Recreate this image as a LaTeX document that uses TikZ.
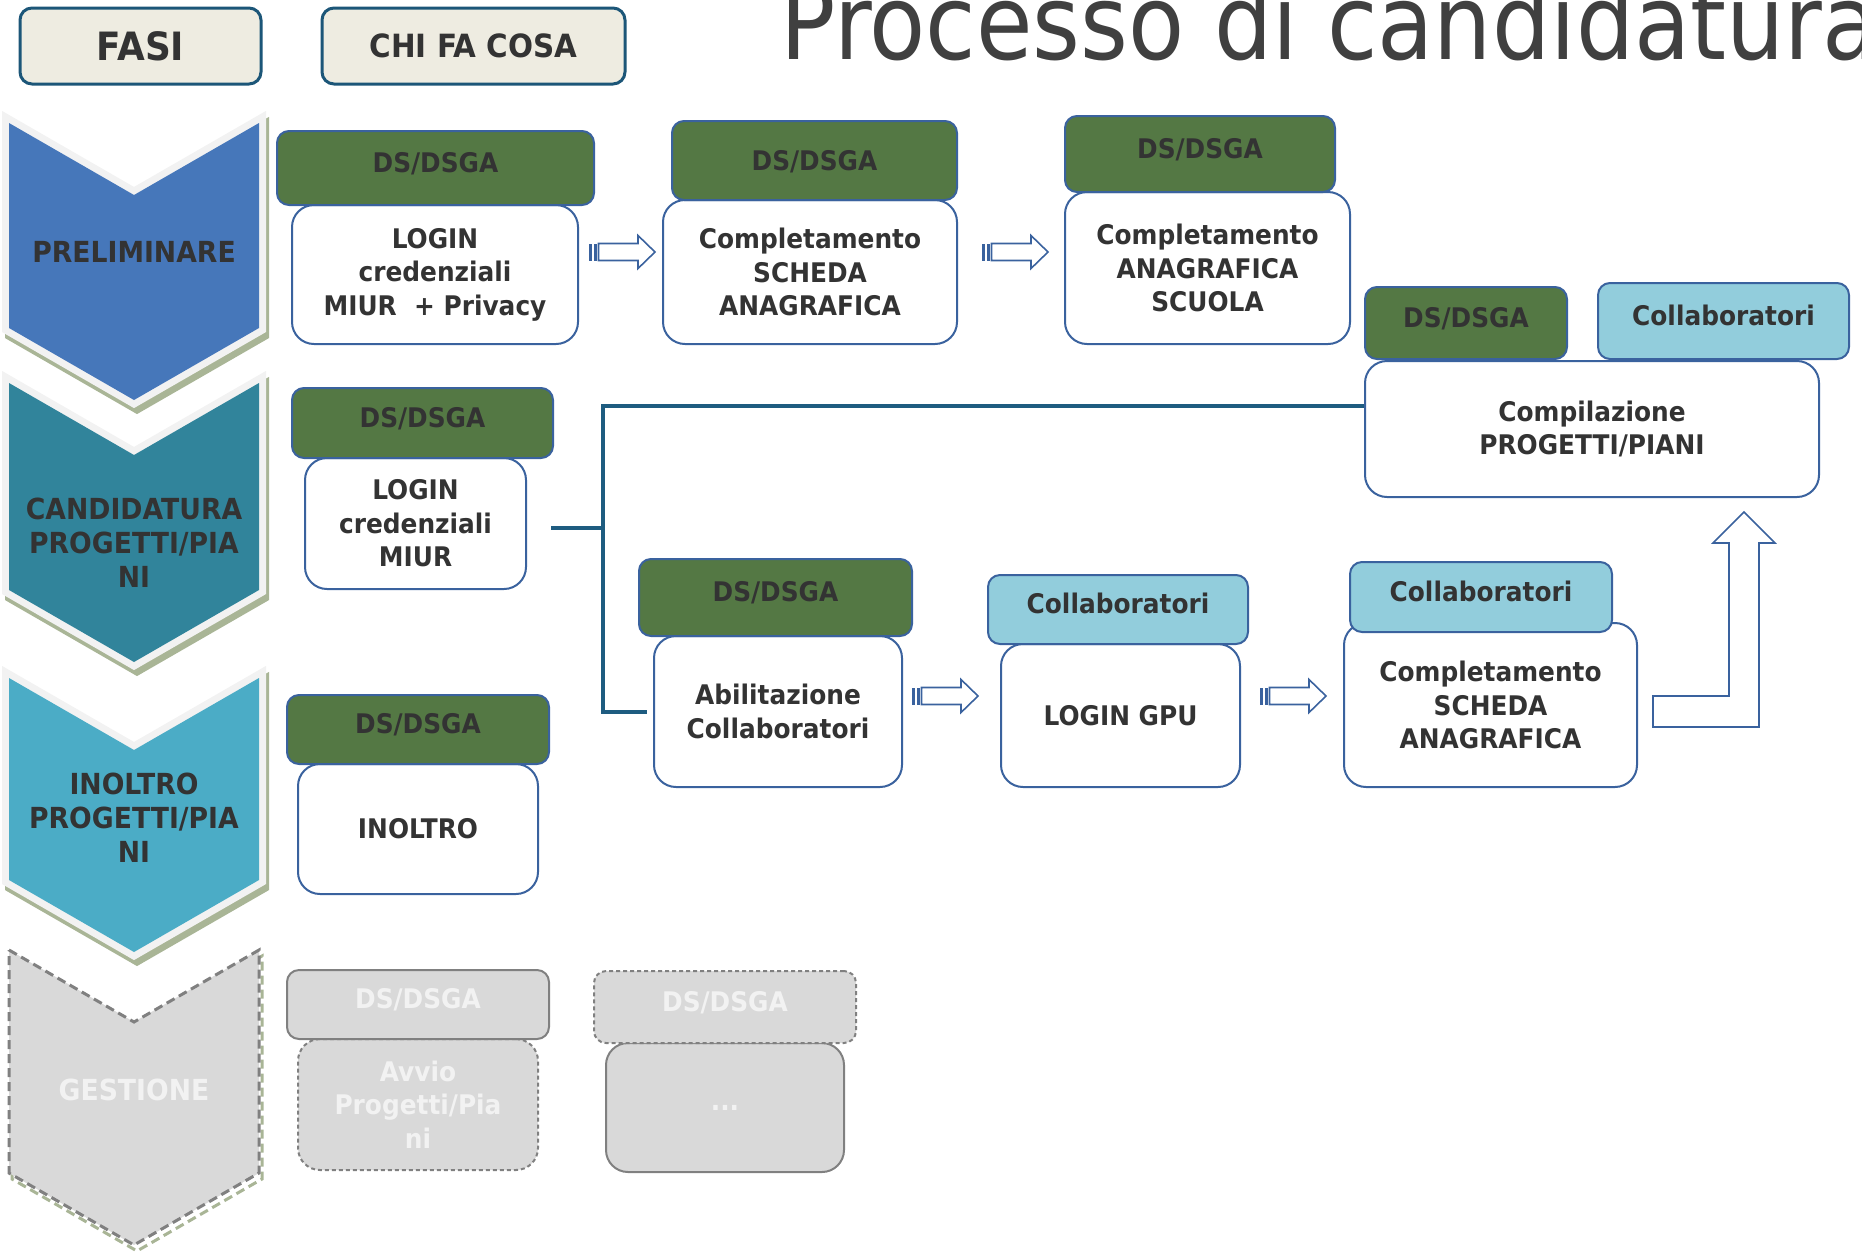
\documentclass[tikz,border=0pt]{standalone}
\usepackage{fontspec}
\setmainfont{DejaVu Sans}[FakeStretch=0.92]
\usetikzlibrary{calc}

\definecolor{txtgrey}{RGB}{51,51,51}
\definecolor{titlegrey}{RGB}{64,64,64}
\definecolor{prelim}{RGB}{70,119,186}
\definecolor{candid}{RGB}{49,132,155}
\definecolor{inoltro}{RGB}{75,172,198}
\definecolor{gestione}{RGB}{217,217,217}
\definecolor{phaseedge}{RGB}{242,242,242}
\definecolor{phaseshadow}{RGB}{169,181,150}
\definecolor{dsgreen}{RGB}{84,120,68}
\definecolor{collab}{RGB}{146,205,220}
\definecolor{boxline}{RGB}{58,98,158}
\definecolor{linkblue}{RGB}{30,92,128}
\definecolor{headfill}{RGB}{238,236,225}
\definecolor{headline}{RGB}{28,86,120}
\definecolor{ghostline}{RGB}{128,128,128}

\newcommand\boxfont{\fontsize{27}{33.5}\selectfont\bfseries}
% chevron of one phase: top y, length of the sides
\newcommand\phaseshape[2]{(9,#1) -- (134,#1+72) -- (259,#1) -- (259,#1+#2)
  -- (134,#1+#2+72) -- (9,#1+#2) -- cycle}

\tikzset{
  body/.style={rectangle, rounded corners=22pt, draw=boxline, line width=2pt,
    fill=white, text=txtgrey, align=center, inner sep=0pt, font=\boxfont},
  dshead/.style={rectangle, rounded corners=12pt, draw=boxline, line width=2pt,
    fill=dsgreen, text=txtgrey, inner sep=0pt, text height=20pt,
    text depth=12pt, font=\boxfont},
  cohead/.style={dshead, fill=collab},
  ghosthead/.style={dshead, fill=gestione, draw=ghostline, text=phaseedge},
  ghostbody/.style={body, fill=gestione, draw=ghostline, text=phaseedge},
  phaselabel/.style={align=center, text=txtgrey,
    font=\fontsize{29}{34}\selectfont\bfseries},
  colhead/.style={rectangle, rounded corners=12pt, draw=headline,
    line width=3pt, fill=headfill, text=txtgrey, inner sep=0pt,
    minimum height=76pt},
  link/.style={draw=linkblue, line width=4pt, line join=miter},
  barrow/.style={draw=boxline, fill=white, line width=1.6pt, line join=miter},
  pics/stripearrow/.style={code={
    \fill[boxline] (0,-8.5) rectangle (3,8.5);
    \fill[boxline] (5,-8.5) rectangle (7.5,8.5);
    \draw[barrow] (9.5,-8.5) -- (49,-8.5) -- (49,-16.5) -- (66,0)
      -- (49,16.5) -- (49,8.5) -- (9.5,8.5) -- cycle;
  }},
}

\begin{document}
\begin{tikzpicture}[x=1pt,y=-1pt]
  \useasboundingbox (0,0) rectangle (1862,1251);
  \clip (0,0) rectangle (1862,1251);

  % phases
  \foreach \t/\s/\c in {123/205/prelim,383/207/candid,678/202/inoltro} {
    \fill[phaseshadow, draw=phaseshadow, line width=14pt, line join=miter,
      shift={(3,6)}] \phaseshape{\t}{\s};
    \draw[phaseedge, line width=14pt, line join=miter] \phaseshape{\t}{\s};
    \fill[\c] \phaseshape{\t}{\s};
  }
  \draw[phaseshadow, line width=3pt, dash pattern=on 9pt off 5pt,
    shift={(3,6)}] \phaseshape{950}{223};
  \draw[fill=gestione, draw=ghostline, line width=3pt,
    dash pattern=on 9pt off 5pt] \phaseshape{950}{223};

  \node[phaselabel] (pre) at (134,252) {PRELIMINARE};
  \node[phaselabel] (can) at (134,543) {CANDIDATURA\\PROGETTI/PIA\\NI};
  \node[phaselabel] (ino) at (134,818) {INOLTRO\\PROGETTI/PIA\\NI};
  \node[phaselabel, text=phaseedge] (ges) at (134,1090) {GESTIONE};

  % column heads and title
  \node[colhead, minimum width=241pt, font=\fontsize{39}{44}\selectfont\bfseries]
    (fasi) at (140.5,46) {FASI};
  \node[colhead, minimum width=303pt, font=\fontsize{32}{38}\selectfont\bfseries]
    (chi) at (473.5,46) {CHI FA COSA};
  \node[anchor=base west, inner sep=0pt, text=titlegrey,
    font=\fontsize{104}{116}\selectfont] (title) at (780,59)
    {\scalebox{0.96}[1]{Processo di candidatura}};

  % preliminare
  \node[body, minimum width=286pt, minimum height=139pt] (lmp) at (435,274.5)
    {LOGIN\\credenziali\\MIUR\ \ + Privacy};
  \node[dshead, minimum width=317pt, minimum height=74pt] (lmph) at (435.5,168)
    {DS/DSGA};
  \node[body, minimum width=294pt, minimum height=144pt] (csa) at (810,272)
    {Completamento\\SCHEDA\\ANAGRAFICA};
  \node[dshead, text depth=0pt, minimum width=285pt, minimum height=79pt]
    (csah) at (814.5,160.5) {DS/DSGA};
  \node[body, minimum width=285pt, minimum height=152pt] (cas) at (1207.5,268)
    {Completamento\\ANAGRAFICA\\SCUOLA};
  \node[dshead, minimum width=270pt, minimum height=76pt] (cash) at (1200,154)
    {DS/DSGA};
  \pic at ($(lmp.east)+(10,-22.5)$) {stripearrow};
  \pic at ($(csa.east)+(24,-20)$) {stripearrow};

  % candidatura
  \node[body, minimum width=454pt, minimum height=136pt] (cpp) at (1592,429)
    {Compilazione\\PROGETTI/PIANI};
  \node[dshead, minimum width=202pt, minimum height=72pt] (cpph) at (1466,323)
    {DS/DSGA};
  \node[cohead, minimum width=251pt, minimum height=76pt] (cppc) at (1723.5,321)
    {Collaboratori};
  \node[body, minimum width=221pt, minimum height=131pt] (lcm) at (415.5,523.5)
    {LOGIN\\credenziali\\MIUR};
  \node[dshead, minimum width=261pt, minimum height=70pt] (lcmh) at (422.5,423)
    {DS/DSGA};
  \node[body, minimum width=248pt, minimum height=151pt] (abc) at (778,711.5)
    {Abilitazione\\Collaboratori};
  \node[dshead, minimum width=273pt, minimum height=77pt] (abch) at (775.5,597.5)
    {DS/DSGA};
  \node[body, minimum width=239pt, minimum height=143pt] (gpu) at (1120.5,715.5)
    {LOGIN GPU};
  \node[cohead, minimum width=260pt, minimum height=69pt] (gpuh) at (1118,609.5)
    {Collaboratori};
  \node[body, minimum width=293pt, minimum height=164pt] (csb) at (1490.5,705)
    {Completamento\\SCHEDA\\ANAGRAFICA};
  \node[cohead, minimum width=262pt, minimum height=70pt] (csbh) at (1481,597)
    {Collaboratori};
  \pic at ($(abc.east)+(9,-15.5)$) {stripearrow};
  \pic at ($(gpu.east)+(19,-19.5)$) {stripearrow};

  \coordinate (lcmo) at ($(lcm.east)+(24,4)$);
  \coordinate (fork) at ($(lcmo)+(52,0)$);
  \coordinate (cppi) at ($(cpp.west)+(0,-23)$);
  \coordinate (abci) at ($(abc.west)+(-6,0)$);
  \draw[link] (lcmo) -- (fork);
  \draw[link] (cppi) -| (fork) |- (abci);

  \coordinate (csbo) at ($(csb.east)+(15,-9)$);
  \draw[barrow] (csbo) -- ++(76,0) -- ++(0,-153) -- ++(-16,0) -- ++(31,-31)
    -- ++(31,31) -- ++(-16,0) -- ++(0,184) -- ++(-106,0) -- cycle;

  % inoltro
  \node[body, minimum width=240pt, minimum height=130pt] (inl) at (418,829)
    {INOLTRO};
  \node[dshead, minimum width=262pt, minimum height=69pt] (inlh) at (418,729.5)
    {DS/DSGA};

  % gestione
  \node[ghostbody, dash pattern=on 4pt off 3pt, minimum width=240pt,
    minimum height=131pt] (avv) at (418,1104.5) {Avvio\\Progetti/Pia\\ni};
  \node[ghosthead, minimum width=262pt, minimum height=69pt] (avvh)
    at (418,1004.5) {DS/DSGA};
  \node[ghostbody, minimum width=238pt, minimum height=129pt] (alt)
    at (725,1107.5) {...};
  \node[ghosthead, dash pattern=on 4pt off 3pt, minimum width=262pt,
    minimum height=72pt] (alth) at (725,1007) {DS/DSGA};
\end{tikzpicture}
\end{document}
